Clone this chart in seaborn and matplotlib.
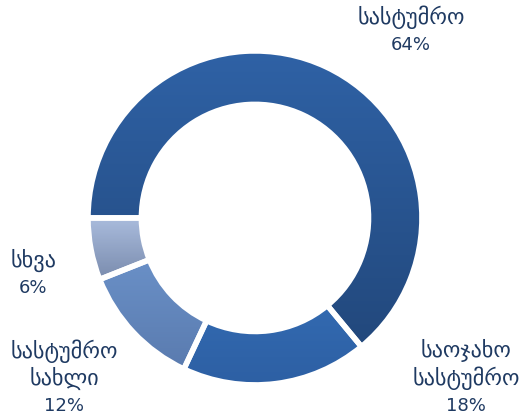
import numpy as np
import matplotlib
matplotlib.use("Agg")
import matplotlib.pyplot as plt
import seaborn as sns
from matplotlib.colors import LinearSegmentedColormap

sns.set_theme(style="white")
plt.rcParams['font.family'] = ['DejaVu Sans']

categories = ["სასტუმრო", "საოჯახო\nსასტუმრო", "სასტუმრო\nსახლი", "სხვა"]
values = [64, 18, 12, 6]
top_colors = ["#2F62A6", "#3875BF", "#7098D0", "#AABCDD"]
bottom_colors = ["#22487C", "#2D5FA3", "#5A7BAF", "#7A8CAE"]
# label anchor: (x centre, y of first line) in data units
label_pos = [(0.934, 1.203), (1.263, -0.796), (-1.144, -0.796), (-1.329, -0.257)]
line_step = 0.165
text_color = "#1F3A62"

fig = plt.figure(figsize=(5.32, 4.20), dpi=100)
ax = fig.add_axes([0, 0, 1, 1])
wedges, _ = ax.pie(values, startangle=180, counterclock=False, radius=1.0,
                   wedgeprops=dict(width=0.32, edgecolor="white", linewidth=4),
                   center=(0, 0))

for w, ct, cb in zip(wedges, top_colors, bottom_colors):
    w.set_facecolor("none")
    verts = w.get_path().vertices
    x0, x1 = verts[:, 0].min(), verts[:, 0].max()
    y0, y1 = verts[:, 1].min(), verts[:, 1].max()
    cmap = LinearSegmentedColormap.from_list("g", [cb, ct])
    grad = np.linspace(0, 1, 256).reshape(-1, 1)
    im = ax.imshow(grad, cmap=cmap, origin="lower", extent=(x0, x1, y0, y1),
                   aspect="auto", zorder=1, interpolation="bilinear")
    im.set_clip_path(w)
    w.set_zorder(2)

for cat, v, (lx, ly) in zip(categories, values, label_pos):
    lines = cat.split("\n")
    for i, ln in enumerate(lines):
        ax.text(lx, ly - i * line_step, ln, ha="center", va="center",
                fontsize=16, color=text_color)
    ax.text(lx, ly - len(lines) * line_step, f"{v}%", ha="center", va="center",
            fontsize=13, color=text_color)

ax.set_xlim(-1.527, 1.659)
ax.set_ylim(-1.210, 1.305)
ax.set_aspect("auto")
ax.axis("off")
fig.savefig("out.png", dpi=100)
